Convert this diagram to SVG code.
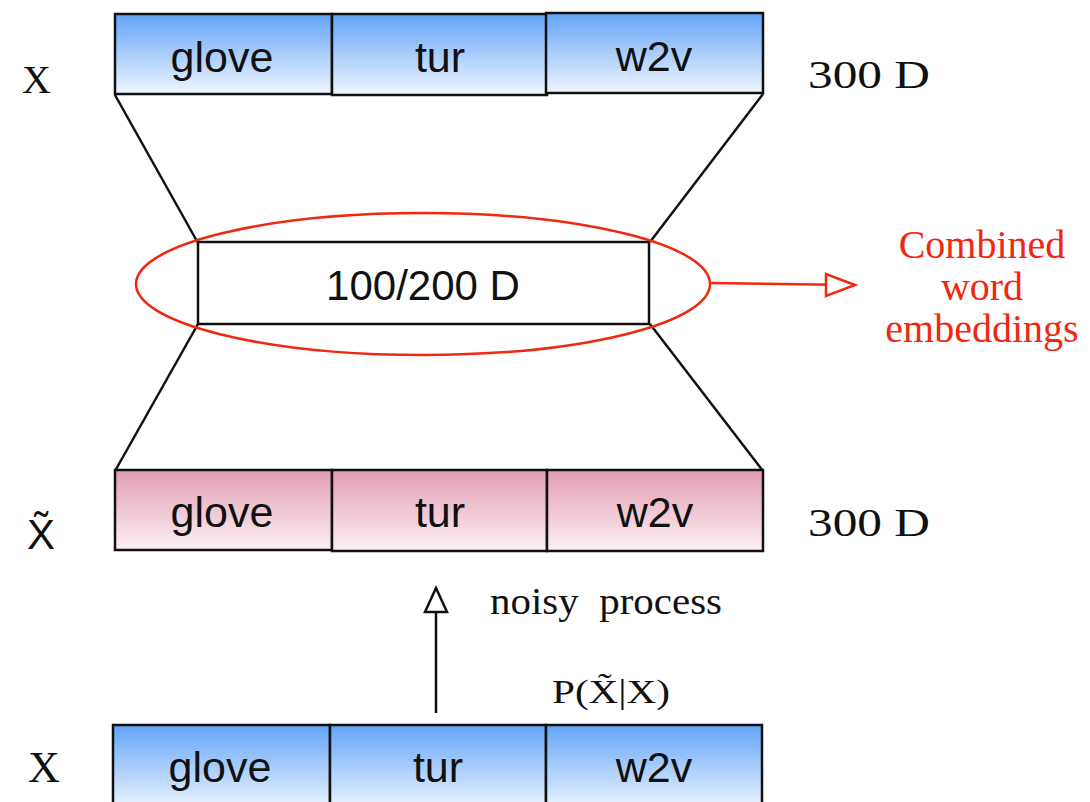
<svg xmlns="http://www.w3.org/2000/svg" width="1090" height="802" viewBox="0 0 1090 802">
<style>
.cell{stroke:#111;stroke-width:2.5}
.blue{fill:url(#gBlue)}
.pink{fill:url(#gPink)}
.lbl{font-family:"Liberation Sans",Arial,sans-serif;font-size:43px;fill:#111;text-anchor:middle}
.serif{font-family:"Liberation Serif","Times New Roman",serif;fill:#111}
.red{fill:#f0280f}
.ln{stroke:#111;stroke-width:2.5;fill:none}
</style>
<defs>
<linearGradient id="gBlue" x1="0" y1="0" x2="0" y2="1">
<stop offset="0" stop-color="#62a4f8"/>
<stop offset="1" stop-color="#f0f6fe"/>
</linearGradient>
<linearGradient id="gPink" x1="0" y1="0" x2="0" y2="1">
<stop offset="0" stop-color="#e29db2"/>
<stop offset="1" stop-color="#fcf0f4"/>
</linearGradient>
</defs>
<rect width="1090" height="802" fill="#fff"/>

<g id="connectors">
<line class="ln" x1="115" y1="95" x2="198" y2="243"/>
<line class="ln" x1="763" y1="94" x2="650" y2="242"/>
<line class="ln" x1="198" y1="324" x2="115" y2="471"/>
<line class="ln" x1="650" y1="324" x2="763" y2="471"/>
<line x1="436" y1="713" x2="436" y2="588" stroke="#111" stroke-width="2.5"/>
<path d="M436,588 L447,612 L425,612 Z" fill="#fff" stroke="#111" stroke-width="2.5"/>
<line x1="710" y1="283" x2="854" y2="285" stroke="#f0280f" stroke-width="2.5"/>
<path d="M855,285 L826,274 L826,296 Z" fill="#fff" stroke="#f0280f" stroke-width="2.5"/>
</g>

<g id="x-top">
<g id="x-top-glove"><rect class="cell blue" x="115" y="14" width="217" height="80"/><text class="lbl" x="222" y="72">glove</text></g>
<g id="x-top-tur"><rect class="cell blue" x="332" y="14" width="215" height="81"/><text class="lbl" x="440" y="72">tur</text></g>
<g id="x-top-w2v"><rect class="cell blue" x="546" y="13" width="217" height="80"/><text class="lbl" x="654" y="71">w2v</text></g>
</g>

<g id="hidden">
<rect x="198" y="242" width="451" height="82" fill="#fff" stroke="#111" stroke-width="2.5"/>
<text class="lbl" x="423" y="300" style="font-size:42px">100/200 D</text>
</g>
<g id="highlight">
<ellipse cx="423" cy="284" rx="287" ry="71" fill="none" stroke="#f0280f" stroke-width="2.5"/>
</g>

<g id="x-tilde">
<g id="x-tilde-glove"><rect class="cell pink" x="115" y="470" width="217" height="80"/><text class="lbl" x="222" y="527">glove</text></g>
<g id="x-tilde-tur"><rect class="cell pink" x="332" y="470" width="215" height="81"/><text class="lbl" x="440" y="527">tur</text></g>
<g id="x-tilde-w2v"><rect class="cell pink" x="547" y="470" width="216" height="81"/><text class="lbl" x="655" y="527">w2v</text></g>
</g>

<g id="x-bottom">
<g id="x-bottom-glove"><rect class="cell blue" x="113" y="725" width="217" height="85"/><text class="lbl" x="220" y="782">glove</text></g>
<g id="x-bottom-tur"><rect class="cell blue" x="330" y="725" width="216" height="85"/><text class="lbl" x="438" y="782">tur</text></g>
<g id="x-bottom-w2v"><rect class="cell blue" x="546" y="725" width="216" height="85"/><text class="lbl" x="654" y="782">w2v</text></g>
</g>

<g id="labels">
<text class="serif" x="22" y="93" font-size="40">X</text>
<text class="serif" x="808" y="88" font-size="40" textLength="122" lengthAdjust="spacingAndGlyphs">300 D</text>
<text x="27" y="549" font-family="Liberation Sans, Arial, sans-serif" font-size="42" fill="#111">X&#x303;</text>
<text class="serif" x="808" y="536" font-size="40" textLength="122" lengthAdjust="spacingAndGlyphs">300 D</text>
<text class="serif" x="490" y="614" font-size="38" xml:space="preserve" textLength="232" lengthAdjust="spacingAndGlyphs">noisy  process</text>
<text class="serif" x="552" y="703" font-size="33" textLength="118" lengthAdjust="spacingAndGlyphs">P(X&#x303;|X)</text>
<text class="serif" x="28" y="782" font-size="44">X</text>
<text class="serif red" x="982" y="258" font-size="40" text-anchor="middle">Combined</text>
<text class="serif red" x="982" y="300" font-size="40" text-anchor="middle">word</text>
<text class="serif red" x="982" y="342" font-size="40" text-anchor="middle">embeddings</text>
</g>
</svg>
